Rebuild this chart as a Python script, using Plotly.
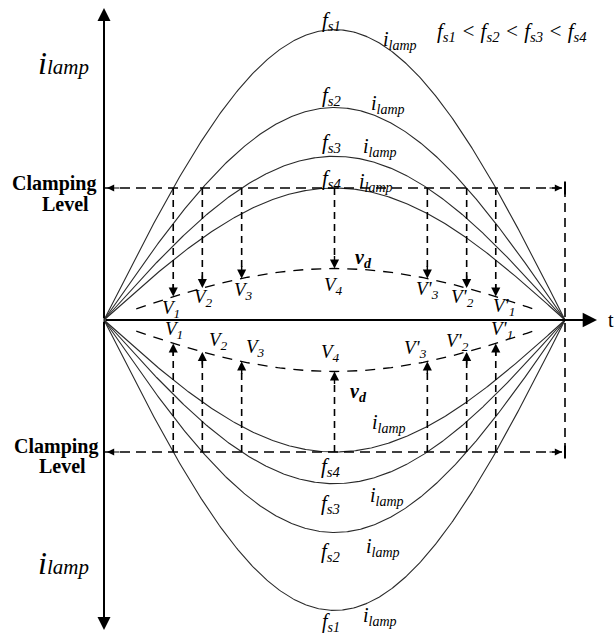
import numpy as np
import plotly.graph_objects as go

# Switching-frequency cases, lowest frequency (largest lamp current) first
freq_names = ["s1", "s2", "s3", "s4"]
lamp_peak = [2.20, 1.61, 1.24, 1.00]   # peak lamp current of each case, clamping level = 1
clamp_level = 1.0
vd_peak = 0.39                          # peak of the v_d envelope

upper_v_labels = ["V<sub>1</sub>", "V<sub>2</sub>", "V<sub>3</sub>", "V<sub>4</sub>",
                  "V'<sub>3</sub>", "V'<sub>2</sub>", "V'<sub>1</sub>"]
lower_v_labels = ["V<sub>1</sub>", "V<sub>2</sub>", "V<sub>3</sub>", "V<sub>4</sub>",
                  "V'<sub>3</sub>", "V'<sub>2</sub>", "V'<sub>1</sub>"]

# ---- canvas geometry -------------------------------------------------------
W, H = 616, 635
X0_PX, X1_PX, Y0_PX, Y_UNIT_PX = 104, 565, 320, 132
SX = X1_PX - X0_PX
x_range = [-X0_PX / SX, (W - X0_PX) / SX]
y_range = [(Y0_PX - H) / Y_UNIT_PX, Y0_PX / Y_UNIT_PX]


def px_x(p):
    return (p - X0_PX) / SX


def px_y(p):
    return (Y0_PX - p) / Y_UNIT_PX


SERIF = "'Liberation Serif', 'Times New Roman', serif"
CURVE = "#2a2a2a"

t = np.linspace(0, 1, 400)
fig = go.Figure()

# lamp-current half cycles, positive and negative
for a in lamp_peak:
    for sgn in (1, -1):
        fig.add_trace(go.Scatter(x=t, y=sgn * a * np.sin(np.pi * t), mode="lines",
                                 line=dict(color=CURVE, width=1.1), hoverinfo="skip"))

# v_d envelopes (dashed)
tv = np.linspace(0.07, 0.93, 200)
for sgn in (1, -1):
    fig.add_trace(go.Scatter(x=tv, y=sgn * vd_peak * np.sin(np.pi * tv), mode="lines",
                             line=dict(color="black", width=1.3, dash="10px,8px"),
                             hoverinfo="skip"))

# clamping levels
for sgn in (1, -1):
    fig.add_trace(go.Scatter(x=[0.0, 1.0], y=[sgn * clamp_level] * 2, mode="lines",
                             line=dict(color="black", width=1.4, dash="10px,6px"),
                             hoverinfo="skip"))
# end-of-period marker
fig.add_trace(go.Scatter(x=[1.0, 1.0], y=[-clamp_level, clamp_level], mode="lines",
                         line=dict(color="black", width=1.6, dash="9px,6px"), hoverinfo="skip"))
for sgn in (1, -1):
    fig.add_trace(go.Scatter(x=[1.0, 1.0], y=[sgn * clamp_level - 0.05, sgn * clamp_level + 0.05],
                             mode="lines", line=dict(color="black", width=2), hoverinfo="skip"))

# times where each current reaches the clamping level
t_cross = [float(np.arcsin(min(clamp_level / a, 1.0)) / np.pi) for a in lamp_peak]
t_marks = t_cross + [1 - tc for tc in t_cross[:3][::-1]]


def vd(tt):
    return vd_peak * np.sin(np.pi * tt)


xs, ys = [], []
for tm in t_marks:
    for sgn in (1, -1):
        xs += [tm, tm, None]
        ys += [sgn * clamp_level, sgn * (vd(tm) + 0.06), None]
fig.add_trace(go.Scatter(x=xs, y=ys, mode="lines",
                         line=dict(color="black", width=1.6, dash="7px,5px"), hoverinfo="skip"))

ann = []


def arrow(x, y, ax, ay, width=1.4, size=1.3, ref="pixel"):
    d = dict(x=x, y=y, ax=ax, ay=ay, text="", showarrow=True, arrowhead=2,
             arrowsize=size, arrowwidth=width, arrowcolor="black", standoff=0,
             startstandoff=0)
    if ref == "data":
        d.update(axref="x", ayref="y")
    ann.append(d)


def label(x, y, text, size=16, xshift=0, yshift=0, bold=False, italic=True, color="black",
          xanchor="center"):
    if italic:
        text = "<i>" + text + "</i>"
    if bold:
        text = "<b>" + text + "</b>"
    ann.append(dict(x=x, y=y, text=text, showarrow=False, xshift=xshift, yshift=yshift,
                    font=dict(family=SERIF, size=size, color=color),
                    xanchor=xanchor, yanchor="middle"))


# axes with arrowheads
arrow(px_x(597), 0, 0, 0, width=2.2, size=1.3, ref="data")
arrow(0, px_y(8), 0, 0, width=2.0, size=1.3, ref="data")
arrow(0, px_y(630), 0, 0, width=2.0, size=1.3, ref="data")

# clamping-level arrowheads
for sgn in (1, -1):
    arrow(px_x(107), sgn * clamp_level, 14, 0, width=1.2, size=1.2)
    arrow(px_x(562), sgn * clamp_level, -14, 0, width=1.2, size=1.2)

# arrows down/up to v_d
for tm in t_marks:
    arrow(tm, vd(tm), 0, -14, width=1.4, size=1.3)
    arrow(tm, -vd(tm), 0, 14, width=1.4, size=1.3)

# V labels
up_dx = [-2, 1, 2, -1, 0, -4, 8]
up_dy = [-12, -10, -13, -17, -12, -10, -10]
lo_dx = [1, 16, 14, -4, -12, -9, 6]
lo_dy = [13, 11, 14, 18, 13, 10, 13]
for i, tm in enumerate(t_marks):
    label(tm, vd(tm), upper_v_labels[i], size=19, xshift=up_dx[i], yshift=up_dy[i])
    label(tm, -vd(tm), lower_v_labels[i], size=19, xshift=lo_dx[i], yshift=lo_dy[i])

label(px_x(363), px_y(258), "v<sub>d</sub>", size=20, bold=True)
label(px_x(358), px_y(392), "v<sub>d</sub>", size=20, bold=True)

# frequency labels at the peaks
f_up_dy = [9, 11, 13, 9]
f_lo_dy = [-12, -19, -20, -15]
il_up_x = [400, 388, 380, 376]
il_up_dy = [18, 17, 17, 11]
il_lo_x = [380, 383, 387, 389]
il_lo_dy = [-20, -26, -23, 20]
for i, a in enumerate(lamp_peak):
    f_txt = "f<sub>" + freq_names[i] + "</sub>"
    label(0.5, a, f_txt, size=21, xshift=-3, yshift=f_up_dy[i])
    label(0.5, -a, f_txt, size=20 if i == 0 else 21, xshift=-4, yshift=f_lo_dy[i])
    tu = px_x(il_up_x[i])
    label(tu, a * np.sin(np.pi * tu), "i<sub>lamp</sub>", size=20, yshift=il_up_dy[i])
    tl = px_x(il_lo_x[i])
    label(tl, -a * np.sin(np.pi * tl), "i<sub>lamp</sub>", size=20, yshift=il_lo_dy[i])

order = " < ".join("f<sub>" + n + "</sub>" for n in freq_names)
label(px_x(512), px_y(32), order, size=21)

big_i = "<span style='font-size:32px'>i</span><span style='font-size:21px'>lamp</span>"
label(px_x(63), px_y(63), big_i, size=21)
label(px_x(63), px_y(563), big_i, size=21)

label(px_x(54), px_y(183), "Clamping", size=20, bold=True, italic=False)
label(px_x(65), px_y(204), "Level", size=20, bold=True, italic=False)
label(px_x(56), px_y(446), "Clamping", size=20, bold=True, italic=False)
label(px_x(62), px_y(466), "Level", size=20, bold=True, italic=False)

label(px_x(606), 0, "t", size=20, italic=False, xanchor="left")

fig.update_layout(
    width=W, height=H, margin=dict(l=0, r=0, t=0, b=0),
    paper_bgcolor="white", plot_bgcolor="white", showlegend=False,
    xaxis=dict(range=x_range, visible=False, fixedrange=True),
    yaxis=dict(range=y_range, visible=False, fixedrange=True),
    annotations=ann,
)

fig.write_html("out.html")
